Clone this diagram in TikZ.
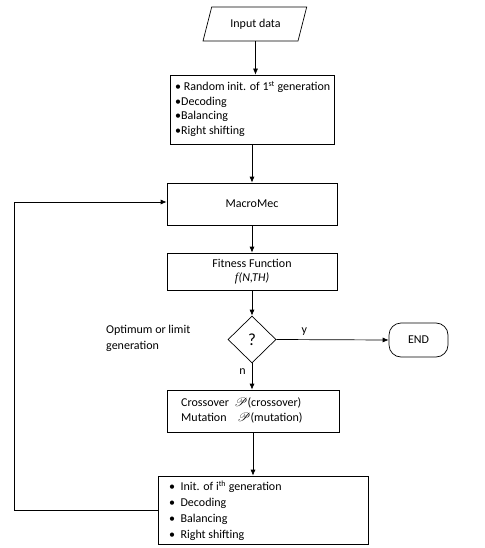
\documentclass[tikz,border=0pt]{standalone}
\usepackage{fontspec}
\setmainfont{Carlito}
\newfontfamily\scrf{Liberation Serif}
\usepackage{mathrsfs}
\usetikzlibrary{shapes.geometric,arrows.meta}
\begin{document}
\begin{tikzpicture}[x=1pt,y=-1pt,
  every node/.style={font=\fontsize{12}{14}\selectfont, inner sep=0pt},
  box/.style={draw, line width=0.7pt, minimum width=#1},
  conn/.style={draw, line width=0.7pt, -{Latex[length=6pt,width=5pt]}}]
\useasboundingbox (0,0) rectangle (484,548);
% input parallelogram
\draw[line width=0.7pt] (211.7,7) -- (306.7,7) -- (298,41) -- (203,41) -- cycle;
\node (in) [minimum width=95, minimum height=34] at (255.5,24) {Input data};
% box 1
\node (b1) [box=164, minimum height=69] at (252,109.5) {};
\node[anchor=west, align=left, font=\fontsize{12}{14.5}\selectfont] at (175,109) {\textbullet\ Random init. of 1\textsuperscript{st} generation\\\textbullet Decoding\\\textbullet Balancing\\\textbullet Right shifting};
% MacroMec
\node (mm) [box=170, minimum height=42] at (252,204) {MacroMec};
% Fitness
\node (ff) [box=170, minimum height=37, align=center, font=\fontsize{12}{14}\selectfont] at (252,271.5) {Fitness Function\\[0pt]{\scrf\itshape f}\kern0.5pt\textit{(N,TH)}};
% decision
\node (dia) [draw, line width=0.7pt, diamond, minimum width=48, minimum height=47, font=\fontsize{17}{18}\selectfont] at (252,339.5) {?};
\node (lim) [anchor=west, align=left, font=\fontsize{12}{15.5}\selectfont] at (106,338.5) {Optimum or limit\\generation};
% END
\node (end) [draw, line width=0.7pt, rounded corners=12pt, minimum width=59, minimum height=34] at (418.5,340) {END};
% crossover
\node (cm) [box=172, minimum height=42] at (253,411) {};
\node[anchor=west, align=left, font=\fontsize{12}{15}\selectfont] at (181,410.5) {Crossover\ \ $\mathscr{P}$(crossover)\\Mutation\ \ \ \ $\mathscr{P}$(mutation)};
% last box
\node (lb) [box=210, minimum height=68] at (263,510) {};
\node[anchor=west, align=left, font=\fontsize{12}{16}\selectfont] at (169,511) {\textbullet\ \ Init. of i\textsuperscript{th} generation\\\textbullet\ \ Decoding\\\textbullet\ \ Balancing\\\textbullet\ \ Right shifting};
% connectors
\draw[conn] (in.south) -- (in.south |- b1.north);
\draw[conn] (b1.south) -- (mm.north);
\draw[conn] (mm.south) -- (ff.north);
\draw[conn] (ff.south) -- (dia.north);
\draw[conn] (dia.east) -- node[pos=0.25, above=4pt] {y} (end.west);
\draw[conn] (dia.south) -- node[pos=0.3, left=6pt] {n} (dia.south |- cm.north);
\draw[conn] (cm.south) -- (cm.south |- lb.north);
\coordinate (c1) at (14,510);
\coordinate (c2) at (14,202);
\draw[conn] (lb.west) -- (c1) -- (c2) -- (c2 -| mm.west);
\end{tikzpicture}
\end{document}
